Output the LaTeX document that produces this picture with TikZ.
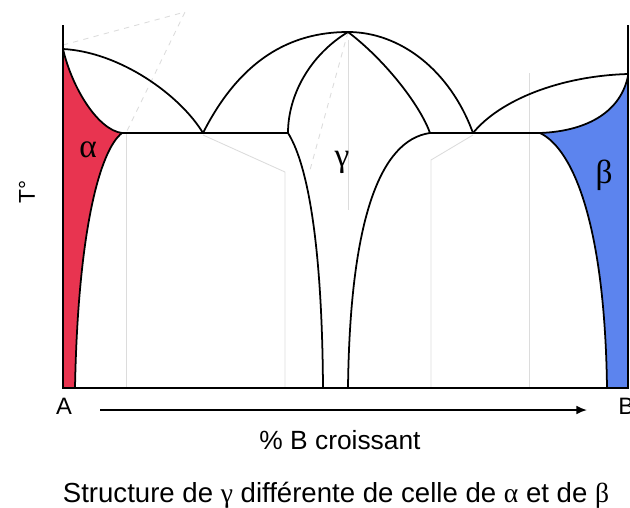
\documentclass[tikz,border=0pt]{standalone}
\usepackage{fontspec}
\setmainfont{Liberation Sans}
\newfontfamily\grk{Liberation Serif}
\usetikzlibrary{arrows.meta, positioning}

\definecolor{alphared}{RGB}{232,52,80}
\definecolor{betablue}{RGB}{92,132,238}
\definecolor{ghost}{RGB}{220,220,220}

\tikzset{
	phase/.style={line width=1pt, black},
	ghostline/.style={line width=0.5pt, ghost},
	phaselabel/.style={font=\grk\fontsize{19}{19}\selectfont},
	endlabel/.style={font=\fontsize{13.5}{14}\selectfont, inner sep=0pt},
}

\begin{document}
\begin{tikzpicture}[x=0.02cm, y=-0.02cm, >=Stealth]
	\useasboundingbox (0,0) rectangle (630,508);
	
	% key points of the diagram
	\coordinate (TA) at (63,49);
	\coordinate (TB) at (628,74);
	\coordinate (Gmax) at (348,32);
	\coordinate (E1) at (203,133);
	\coordinate (E2) at (473,133);
	\coordinate (Sa) at (122,133);
	\coordinate (Gl) at (288,133);
	\coordinate (Gr) at (430,133);
	\coordinate (Sb) at (540,133);
	\coordinate (Ba) at (75,388);
	\coordinate (Bgl) at (323,388);
	\coordinate (Bgr) at (348,388);
	\coordinate (Bb) at (607,388);
	
	% faint traces
	\draw[ghostline, dashed] (63,45) -- (185,12) -- (126,133);
	\draw[ghostline] (126,133) -- (126,388);
	\draw[ghostline] (203,135) -- (285,172) -- (285,388);
	\draw[ghostline, dashed] (Gmax) -- (310,170);
	\draw[ghostline] (348,40) -- (348,210);
	\draw[ghostline] (473,135) -- (431,160) -- (431,388);
	\draw[ghostline] (529,73) -- (529,388);
	
	% alpha domain
	\fill[alphared] (TA) .. controls (72,88) and (98,130) .. (Sa)
		.. controls (100,150) and (78,230) .. (Ba) -- (63,388) -- cycle;
	% beta domain
	\fill[betablue] (Sb) .. controls (590,131) and (621,110) .. (628,76)
		-- (628,388) -- (Bb) .. controls (605,230) and (575,150) .. (Sb) -- cycle;
	
	% axes
	\draw[phase] (63,25) -- (63,388) -- (628,388) -- (628,25);
	
	% liquidus
	\draw[phase] (TA) .. controls (120,52) and (180,95) .. (E1);
	\draw[phase] (E1) .. controls (240,60) and (290,32) .. (Gmax)
		.. controls (400,32) and (450,70) .. (E2);
	\draw[phase] (E2) .. controls (500,100) and (560,76) .. (TB);
	
	% solidus and solvus
	\draw[phase] (TA) .. controls (72,88) and (98,130) .. (Sa)
		.. controls (100,150) and (78,230) .. (Ba);
	\draw[phase] (Sa) -- (Gl);
	\draw[phase] (Gmax) .. controls (310,55) and (288,95) .. (Gl)
		.. controls (305,160) and (322,230) .. (Bgl);
	\draw[phase] (Gmax) .. controls (385,60) and (420,105) .. (Gr)
		.. controls (380,140) and (350,220) .. (Bgr);
	\draw[phase] (Gr) -- (Sb);
	\draw[phase] (Sb) .. controls (590,131) and (621,110) .. (628,76);
	\draw[phase] (Sb) .. controls (575,150) and (605,230) .. (Bb);
	
	% labels
	\node[phaselabel] (alpha) at (88,150) {α};
	\node[phaselabel] (gamma) at (342,162) {γ};
	\node[phaselabel] (beta) at (604,175) {β};
	\node[rotate=90, font=\fontsize{13}{13}\selectfont] (temp) at (27,192) {T°};
	
	\node[endlabel] (A) at (64,406) {A};
	\node[endlabel, anchor=west] (B) at (618,406) {B};
	\coordinate (arrstart) at (100,410);
	\coordinate (arrend) at (587,410);
	\draw[->, line width=1pt, >={Latex[length=6pt, width=5pt]}] (arrstart) -- (arrend);
	\node[font=\fontsize{15}{15}\selectfont] (xlabel) at (340,440) {\% B croissant};
	\node[font=\fontsize{15.7}{16}\selectfont] (caption) at (336,495)
		{Structure de {\grk γ} différente de celle de {\grk α} et de {\grk β}};
\end{tikzpicture}
\end{document}
